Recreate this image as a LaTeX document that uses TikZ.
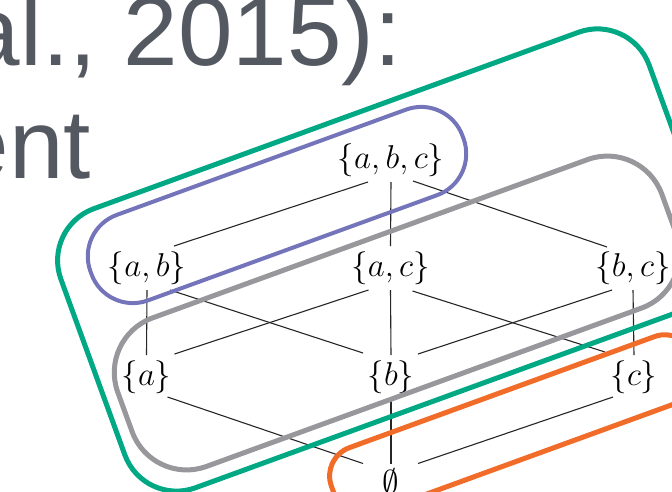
\RequirePackage{fix-cm}
\documentclass[tikz,border=0pt]{standalone}
\usepackage{fontspec}
\newfontfamily\slidefont{Liberation Sans}
\definecolor{tgreen}{RGB}{0,168,132}
\definecolor{tpurple}{RGB}{116,116,186}
\definecolor{tgray}{RGB}{152,152,156}
\definecolor{torange}{RGB}{240,108,40}
\definecolor{slidegray}{RGB}{84,88,96}
\begin{document}
\begin{tikzpicture}[x=1pt,y=-1pt,
  setnode/.style={inner sep=0pt, font=\fontsize{33}{36}\selectfont},
  hasse/.style={line width=1.1pt, black!85},
  blob/.style={draw, inner sep=0pt, rotate=20, line width=5pt},
  slidetext/.style={anchor=base east, inner sep=0pt, text=slidegray, font=\slidefont\fontsize{98}{100}\selectfont}
]
\useasboundingbox (0,0) rectangle (672,491);
\clip (0,0) rectangle (672,491);

% slide title fragments
\node[slidetext] (t1) at (402,65) {al., 2015):};
\node[slidetext] (t2) at (91,178) {ent};

% Hasse diagram nodes
\node[setnode] (abc) at (391,160) {$\{a,b,c\}$};
\node[setnode] (ab)  at (147,268) {$\{a,b\}$};
\node[setnode] (ac)  at (390.5,268) {$\{a,c\}$};
\node[setnode] (bc)  at (633,268) {$\{b,c\}$};
\node[setnode] (a)   at (146.5,377) {$\{a\}$};
\node[setnode] (b)   at (391,377) {$\{b\}$};
\node[setnode] (c)   at (634,377) {$\{c\}$};
\node[setnode] (e)   at (391,485.5) {$\vphantom{\{\}}\emptyset$};

% edges
\draw[hasse] ([shift={(-23,22)}]abc.center) -- ([shift={(27,-22)}]ab.center);
\draw[hasse] ([shift={(0,22)}]abc.center) -- ([shift={(0,-22)}]ac.center);
\draw[hasse] ([shift={(22,21)}]abc.center) -- ([shift={(-26,-21)}]bc.center);
\draw[hasse] ([shift={(0,22)}]ab.center) -- ([shift={(0,-22)}]a.center);
\draw[hasse] ([shift={(23,22)}]ab.center) -- ([shift={(-28,-24)}]b.center);
\draw[hasse] ([shift={(-22,22)}]ac.center) -- ([shift={(28,-23)}]a.center);
\draw[hasse] ([shift={(0,22)}]ac.center) -- ([shift={(0,-22)}]b.center);
\draw[hasse] ([shift={(22,23)}]ac.center) -- ([shift={(-29,-25)}]c.center);
\draw[hasse] ([shift={(-21,22)}]bc.center) -- ([shift={(27,-23)}]b.center);
\draw[hasse] ([shift={(0,22)}]bc.center) -- ([shift={(0,-22)}]c.center);
\draw[hasse] ([shift={(21,20)}]a.center) -- ([shift={(-28,-22)}]e.center);
\draw[hasse] ([shift={(0,20)}]b.center) -- ([shift={(0,-22)}]e.center);
\draw[hasse] ([shift={(-21,20)}]c.center) -- ([shift={(27,-22)}]e.center);

% enclosing shapes
\node[blob, draw=tgreen, rounded corners=55pt, minimum width=626pt, minimum height=297pt] (green) at (387,260) {};
\node[blob, draw=tgray, rounded corners=58pt, minimum width=579pt, minimum height=158pt] (gray) at (397,313) {};
\node[blob, draw=tpurple, line width=4pt, rounded corners=44pt, minimum width=396pt, minimum height=91pt] (purple) at (277,205) {};
\node[blob, draw=torange, rounded corners=30pt, minimum width=385pt, minimum height=70pt] (orange) at (514,425) {};
\end{tikzpicture}
\end{document}
